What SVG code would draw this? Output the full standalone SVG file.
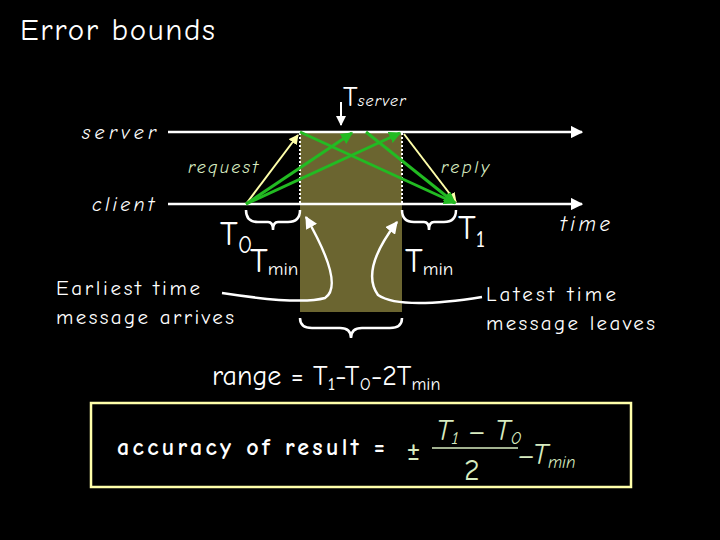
<svg xmlns="http://www.w3.org/2000/svg" width="720" height="540" viewBox="0 0 720 540">
<style>
.t{font-family:"Comic Neue","DejaVu Sans","Liberation Sans",sans-serif;fill:#fff}
.i{font-style:italic}
.g{fill:#d8ecc0}
.w{stroke:#fff;fill:none;stroke-width:2.5}
.gr{stroke:#22bb22;stroke-width:3;fill:none}
.y{stroke:#ffffaa;stroke-width:2;fill:none}
</style>
<defs>
<marker id="aw" viewBox="0 0 10 10" refX="9" refY="5" markerWidth="5" markerHeight="5" orient="auto"><path d="M0,0L10,5L0,10z" fill="#fff"/></marker>
<marker id="ag" viewBox="0 0 10 10" refX="9" refY="5" markerWidth="4" markerHeight="4" orient="auto"><path d="M0,0L10,5L0,10z" fill="#22bb22"/></marker>
<marker id="ay" viewBox="0 0 10 10" refX="9" refY="5" markerWidth="5" markerHeight="5" orient="auto"><path d="M0,0L10,5L0,10z" fill="#ffffaa"/></marker>
</defs>
<rect width="720" height="540" fill="#000"/>
<text class="t" x="20" y="40" font-size="31" textLength="195" lengthAdjust="spacing">Error bounds</text>
<rect x="300" y="132" width="102" height="180" fill="#6b6530"/>
<g id="connectors">
<line class="w" x1="168" y1="132" x2="582" y2="132" marker-end="url(#aw)"/>
<line class="w" x1="168" y1="204" x2="582" y2="204" marker-end="url(#aw)"/>
<line x1="300" y1="133" x2="300" y2="204" stroke="#fff" stroke-width="2" stroke-dasharray="2,2"/>
<line x1="402" y1="133" x2="402" y2="204" stroke="#fff" stroke-width="2" stroke-dasharray="2,2"/>
<line x1="341" y1="102" x2="341" y2="125" stroke="#fff" stroke-width="2" marker-end="url(#aw)"/>
<line class="y" x1="246" y1="204" x2="298" y2="135" marker-end="url(#ay)"/>
<line class="y" x1="404" y1="134" x2="456" y2="202" marker-end="url(#ay)"/>
<line class="gr" x1="246" y1="204" x2="352" y2="133" marker-end="url(#ag)"/>
<line class="gr" x1="246" y1="204" x2="400" y2="133" marker-end="url(#ag)"/>
<line class="gr" x1="300" y1="132" x2="455" y2="203" marker-end="url(#ag)"/>
<line class="gr" x1="366" y1="132" x2="455" y2="203" marker-end="url(#ag)"/>
<path class="w" d="M246,210 Q246,222 258,222 L268,222 Q273,222 273,230 Q273,222 278,222 L288,222 Q300,222 300,210" stroke-width="2"/>
<path class="w" d="M402,210 Q402,222 414,222 L424,222 Q429,222 429,230 Q429,222 434,222 L444,222 Q456,222 456,210" stroke-width="2"/>
<path class="w" d="M300,318 Q300,328 312,328 L340,328 Q351,328 351,338 Q351,328 362,328 L390,328 Q402,328 402,318" stroke-width="2"/>
<path class="w" d="M222,293 Q300,305 325,298 Q345,285 306,217" stroke-width="2" marker-end="url(#aw)"/>
<path class="w" d="M482,297 Q400,310 378,295 Q360,270 397,222" stroke-width="2" marker-end="url(#aw)"/>
</g>
<g id="labels">
<text class="t i" x="82" y="139" font-size="20" textLength="74" lengthAdjust="spacing">server</text>
<text class="t i" x="92" y="211" font-size="20" textLength="62" lengthAdjust="spacing">client</text>
<text class="t" x="343" y="106" font-size="28">T<tspan class="i" font-size="16" textLength="48" lengthAdjust="spacing">server</tspan></text>
<text class="t" x="220" y="245" font-size="34">T<tspan font-size="24" dy="8">0</tspan></text>
<text class="t" x="250" y="272" font-size="34">T<tspan font-size="19" dy="3">min</tspan></text>
<text class="t" x="405" y="272" font-size="34">T<tspan font-size="19" dy="3">min</tspan></text>
<text class="t" x="458" y="239" font-size="34">T<tspan font-size="24" dy="8">1</tspan></text>
<text class="t i g" x="188" y="173" font-size="18" textLength="70" lengthAdjust="spacing">request</text>
<text class="t i g" x="441" y="173" font-size="18" textLength="48" lengthAdjust="spacing">reply</text>
<text class="t i" x="560" y="231" font-size="21" textLength="50" lengthAdjust="spacing">time</text>
<text class="t" x="56" y="295" font-size="21" textLength="144" lengthAdjust="spacing">Earliest time</text>
<text class="t" x="56" y="324" font-size="21" textLength="178" lengthAdjust="spacing">message arrives</text>
<text class="t" x="486" y="301" font-size="21" textLength="130" lengthAdjust="spacing">Latest time</text>
<text class="t" x="486" y="330" font-size="21" textLength="169" lengthAdjust="spacing">message leaves</text>
<text class="t" x="212" y="385" font-size="28">range = T<tspan font-size="19" dy="5">1</tspan><tspan dy="-5">-T</tspan><tspan font-size="19" dy="5">0</tspan><tspan dy="-5">-2T</tspan><tspan font-size="18" dy="5">min</tspan></text>
</g>
<g id="formula">
<rect x="91" y="403" width="540" height="84" fill="none" stroke="#ffffaa" stroke-width="2.5"/>
<text class="t" x="117" y="455" font-size="24" font-weight="bold" textLength="268" lengthAdjust="spacing">accuracy of result =</text>
<text class="t g" x="406" y="460" font-size="34">±</text>
<text class="t g i" x="436" y="440" font-size="30">T<tspan font-size="18" dy="4">1</tspan><tspan dy="-4"> – T</tspan><tspan font-size="18" dy="4">0</tspan></text>
<line x1="432" y1="448" x2="518" y2="448" stroke="#d8ecc0" stroke-width="1.5"/>
<text class="t g" x="464" y="480" font-size="30">2</text>
<text class="t g i" x="518" y="464" font-size="30">–T<tspan font-size="17" dy="4">min</tspan></text>
</g>
</svg>
